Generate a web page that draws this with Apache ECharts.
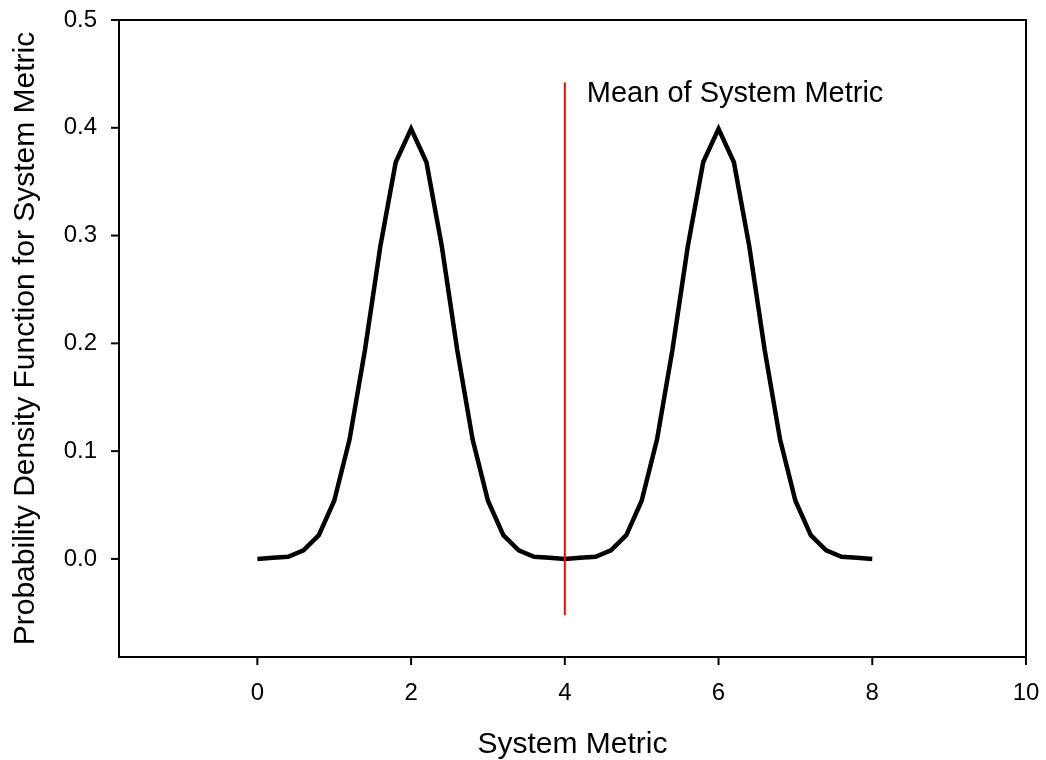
<!DOCTYPE html>
<html>
<head>
<meta charset="utf-8">
<script src="https://cdn.jsdelivr.net/npm/echarts@6/dist/echarts.min.js"></script>
<style>html,body{margin:0;padding:0;background:#fff}#c{width:1046px;height:760px}</style>
</head>
<body>
<div id="c"></div>
<script>
var xValues = [0,0.2,0.4,0.6,0.8,1,1.2,1.4,1.6,1.8,2,2.2,2.4,2.6,2.8,3,3.2,3.4,3.6,3.8,4,4.2,4.4,4.6,4.8,5,5.2,5.4,5.6,5.8,6,6.2,6.4,6.6,6.8,7,7.2,7.4,7.6,7.8,8];
var pdfValues = [0.000,0.001,0.002,0.008,0.022,0.054,0.111,0.194,0.290,0.368,0.399,0.368,0.290,0.194,0.111,0.054,0.022,0.008,0.002,0.001,0.000,0.001,0.002,0.008,0.022,0.054,0.111,0.194,0.290,0.368,0.399,0.368,0.290,0.194,0.111,0.054,0.022,0.008,0.002,0.001,0.000];
var meanX = 4;
var meanLineY = [-0.052, 0.442];
var meanLabel = 'Mean of System Metric';
var xTicks = [0,2,4,6,8,10];
var yTicks = [0,0.1,0.2,0.3,0.4,0.5];
var xTitle = 'System Metric';
var yTitle = 'Probability Density Function for System Metric';
var xRange = [-1.8, 10];
var yRange = [-0.091, 0.5];

var font = 'Liberation Sans, Arial, sans-serif';
var TICK_LEN = 8;

function isTick(list, v) {
  for (var i = 0; i < list.length; i++) { if (Math.abs(list[i] - v) < 1e-9) return true; }
  return false;
}

var chart = echarts.init(document.getElementById('c'), null, {renderer:'canvas'});
chart.setOption({
  animation:false,
  backgroundColor:'#fff',
  grid:{left:119,right:20,top:20,bottom:103,show:true,borderColor:'#000',borderWidth:2,containLabel:false,outerBoundsMode:'none'},
  xAxis:{
    type:'value',min:xRange[0],max:xRange[1],splitNumber:6,
    name:xTitle,nameLocation:'middle',nameGap:73,
    nameTextStyle:{fontFamily:font,fontSize:30,color:'#000'},
    axisLine:{show:true,onZero:false,lineStyle:{color:'#000',width:2}},
    axisTick:{show:false},
    axisLabel:{fontFamily:font,fontSize:24,color:'#000',margin:24,showMinLabel:false,
      formatter:function(v){return isTick(xTicks, v) ? String(v) : '';}},
    splitLine:{show:false}
  },
  yAxis:{
    type:'value',min:yRange[0],max:yRange[1],splitNumber:6,
    name:yTitle,nameLocation:'middle',nameGap:78,nameRotate:90,
    nameTextStyle:{fontFamily:font,fontSize:30,color:'#000'},
    axisLine:{show:true,onZero:false,lineStyle:{color:'#000',width:2}},
    axisTick:{show:false},
    axisLabel:{fontFamily:font,fontSize:24,color:'#000',margin:22,showMinLabel:false,
      formatter:function(v){return isTick(yTicks, v) ? v.toFixed(1) : '';}},
    splitLine:{show:false}
  },
  series:[
    {
      type:'line',
      data:xValues.map(function(x,i){return [x,pdfValues[i]];}),
      showSymbol:false,symbol:'none',
      lineStyle:{color:'#000',width:4.5,join:'miter'},
      z:2
    },
    {
      type:'line',
      data:[[meanX,meanLineY[0]],[meanX,meanLineY[1]]],
      showSymbol:false,symbol:'none',
      lineStyle:{color:'#ff0000',width:2},
      endLabel:{show:true,formatter:meanLabel,fontFamily:font,fontSize:29,color:'#000',distance:0,offset:[22,11]},
      z:3
    },
    {
      name:'xTickMarks',
      type:'scatter',
      data:xTicks.map(function(v){return [v, yRange[0]];}),
      symbol:'rect',
      symbolSize:[2, TICK_LEN],
      symbolOffset:[0, TICK_LEN/2],
      itemStyle:{color:'#000',opacity:1},
      clip:false,silent:true,z:10
    },
    {
      name:'yTickMarks',
      type:'scatter',
      data:yTicks.map(function(v){return [xRange[0], v];}),
      symbol:'rect',
      symbolSize:[TICK_LEN, 2],
      symbolOffset:[-TICK_LEN/2, 0],
      itemStyle:{color:'#000',opacity:1},
      clip:false,silent:true,z:10
    }
  ]
});
</script>
</body>
</html>
